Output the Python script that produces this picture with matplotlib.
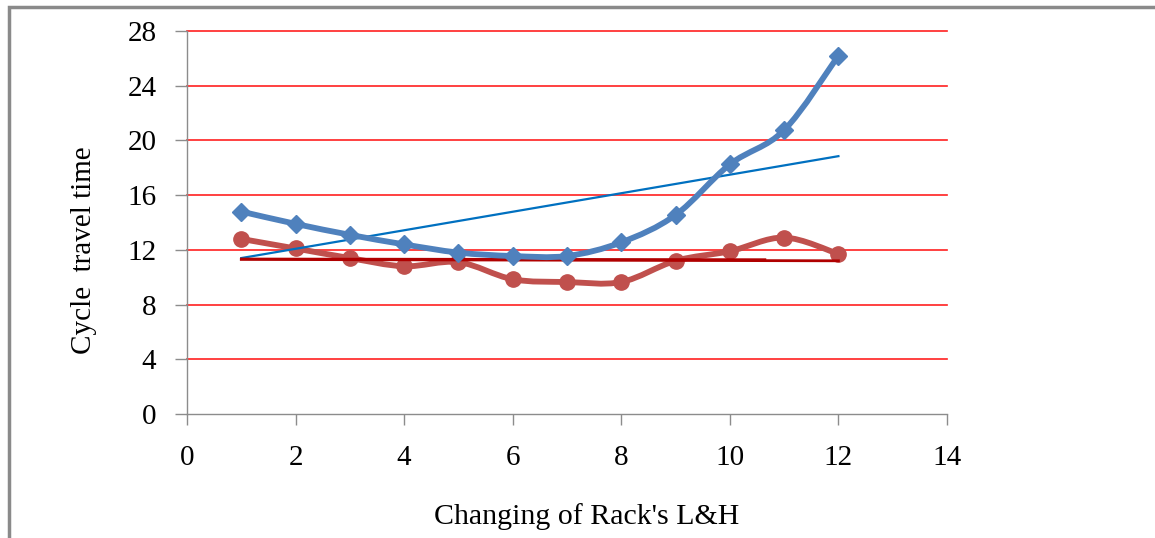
import matplotlib.pyplot as plt
import numpy as np
from matplotlib.path import Path
from matplotlib.patches import PathPatch, Rectangle

x_vals = [1, 2, 3, 4, 5, 6, 7, 8, 9, 10, 11, 12]
blue_vals = [14.8, 13.9, 13.1, 12.4, 11.8, 11.55, 11.55, 12.55, 14.55, 18.25, 20.75, 26.2]
red_vals = [12.8, 12.1, 11.4, 10.8, 11.1, 9.85, 9.65, 9.65, 11.2, 11.9, 12.9, 11.7]

# trend lines (start/end)
trend_x = [1, 12]
blue_trend_y = [11.4, 18.85]
red_trend_y = [11.3, 11.2]
red_short_x = [1, 10.65]
red_short_y = [11.35, 11.3]

x_ticks = [0, 2, 4, 6, 8, 10, 12, 14]
y_ticks = [0, 4, 8, 12, 16, 20, 24, 28]

BLUE = '#4F81BD'
RED = '#C0504D'
GRID = '#FF2020'
AXIS = '#8C8C8C'


def smooth_path(xs, ys):
    """Catmull-Rom style bezier path through the points (like Excel smoothed lines)."""
    pts = np.column_stack([xs, ys]).astype(float)
    n = len(pts)
    verts = [pts[0]]
    codes = [Path.MOVETO]
    for i in range(n - 1):
        p0 = pts[i - 1] if i > 0 else pts[i]
        p1 = pts[i]
        p2 = pts[i + 1]
        p3 = pts[i + 2] if i + 2 < n else pts[i + 1]
        c1 = p1 + (p2 - p0) / 6.0
        c2 = p2 - (p3 - p1) / 6.0
        verts += [c1, c2, p2]
        codes += [Path.CURVE4] * 3
    return Path(verts, codes)


plt.rcParams['font.family'] = ['Liberation Serif', 'DejaVu Serif']

fig = plt.figure(figsize=(11.55, 5.38), dpi=100)
ax = fig.add_axes([187 / 1155, 1 - 414 / 538, 760 / 1155, 383 / 538])

# outer frame
fig.patches.append(Rectangle((9 / 1155, -0.1), 1.2, 1.1 - 7 / 538,
                             transform=fig.transFigure, fill=False,
                             edgecolor='#8A8A8A', linewidth=2.5))

for y in y_ticks[1:]:
    ax.axhline(y, color=GRID, linewidth=1.2, zorder=1, clip_on=False)

# trend lines
ax.plot(trend_x, blue_trend_y, color='#0070C0', linewidth=1.6, zorder=4)
ax.plot(trend_x, red_trend_y, color='#B00000', linewidth=2.0, zorder=4)
ax.plot(red_short_x, red_short_y, color='#B00000', linewidth=1.6, zorder=4)

# smoothed series
ax.add_patch(PathPatch(smooth_path(x_vals, red_vals), fill=False,
                       edgecolor=RED, linewidth=4.2, capstyle='round', zorder=3))
ax.plot(x_vals, red_vals, 'o', color=RED, markersize=11, zorder=3)
ax.add_patch(PathPatch(smooth_path(x_vals, blue_vals), fill=False,
                       edgecolor=BLUE, linewidth=4.2, capstyle='round', zorder=5))
ax.plot(x_vals, blue_vals, 'D', color=BLUE, markersize=9.5, zorder=5)

ax.set_xlim(0, 14)
ax.set_ylim(0, 28)
ax.set_xticks(x_ticks)
ax.set_yticks(y_ticks)
for s in ['top', 'right']:
    ax.spines[s].set_visible(False)
for s in ['left', 'bottom']:
    ax.spines[s].set_color(AXIS)
    ax.spines[s].set_linewidth(1.0)
    ax.spines[s].set_zorder(2)
ax.tick_params(axis='y', direction='out', length=9, color=AXIS, width=1.0,
               labelsize=21, pad=13)
ax.tick_params(axis='x', direction='out', length=8, color=AXIS, width=1.0,
               labelsize=21, pad=14)

fig.text(587 / 1155, 1 - 517 / 538, "Changing of Rack's L&H", fontsize=21.5,
         ha='center', va='center')
fig.text(84 / 1155, 1 - 250 / 538, "Cycle  travel time", fontsize=21,
         ha='center', va='center', rotation=90)

fig.savefig('out.png', dpi=100)
